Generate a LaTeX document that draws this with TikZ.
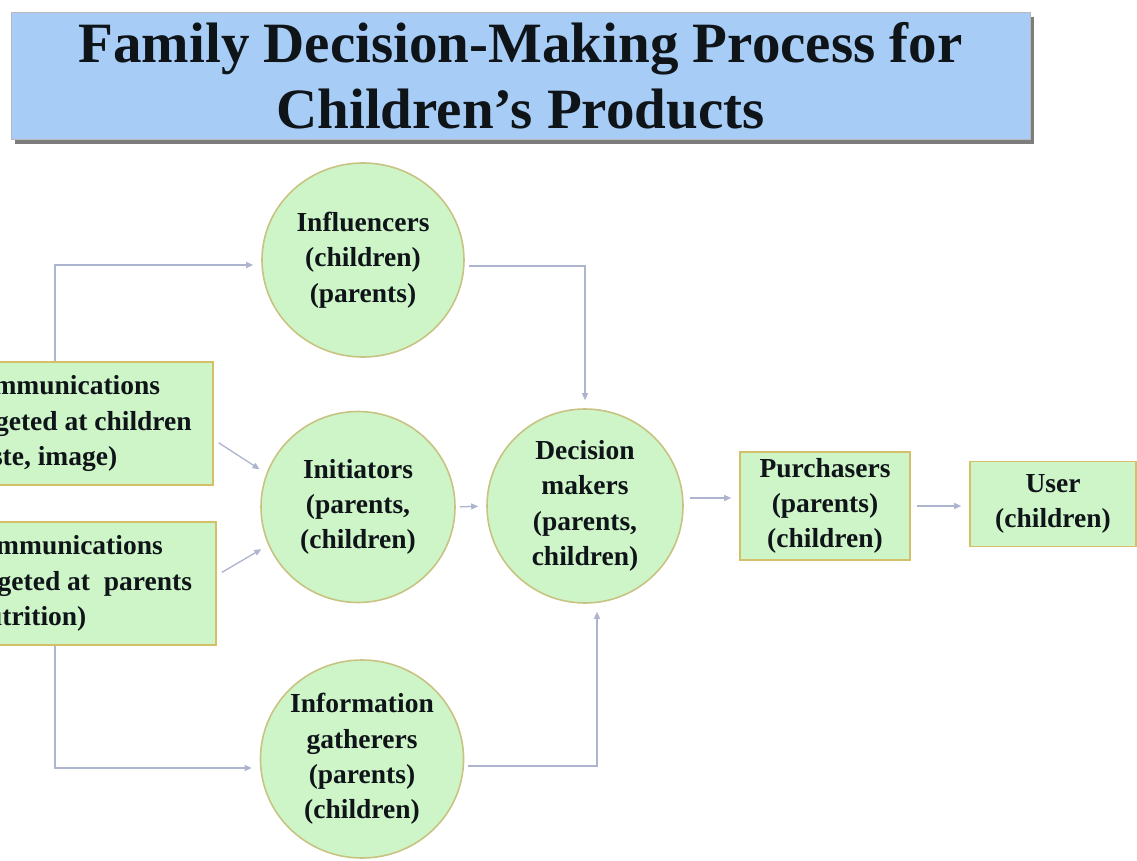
\documentclass[tikz,border=0pt]{standalone}
\usepackage{fontspec}
\setmainfont{Liberation Serif}
\usetikzlibrary{shapes.geometric,arrows.meta,shadows}
\definecolor{titleblue}{RGB}{167,205,246}
\definecolor{nodegreen}{RGB}{206,245,200}
\definecolor{circedge}{RGB}{200,195,130}
\definecolor{boxedge}{RGB}{212,192,105}
\definecolor{arrowgray}{RGB}{172,180,206}
\definecolor{shadowgray}{RGB}{125,125,125}
\definecolor{inkblack}{RGB}{15,20,25}
\tikzset{
  lbl/.style={font=\bfseries\fontsize{27.5}{35.3}\selectfont, align=center, text=inkblack},
  circ/.style={lbl, ellipse, fill=nodegreen, draw=circedge, line width=1.6pt, inner sep=0pt},
  gbox/.style={lbl, rectangle, fill=nodegreen, draw=boxedge, line width=1.6pt, inner sep=0pt},
  lbox/.style={gbox, align=left, inner sep=0pt, minimum height=123pt, anchor=west},
  titlebox/.style={rectangle, fill=titleblue, draw=gray!55, line width=0.8pt,
    font=\bfseries\fontsize{57}{66}\selectfont, align=center, text=inkblack,
    drop shadow={shadow xshift=4pt, shadow yshift=-5pt, fill=shadowgray, opacity=1}},
  arr/.style={draw=arrowgray, line width=1.3pt, -{Triangle[length=7pt,width=6pt]}, shorten >=8pt}
}
\begin{document}
\begin{tikzpicture}[x=1pt,y=-1pt]
\useasboundingbox (0,0) rectangle (1137,861);
\clip (0,0) rectangle (1137,861);

\node[titlebox, minimum width=1019pt, minimum height=127pt] (title) at (520.5,75.5)
  {Family Decision-Making Process for\\Children’s Products};

\node[circ, minimum width=202pt, minimum height=194pt] (infl) at (363,260)
  {Influencers\\(children)\\(parents)};
\node[circ, minimum width=194pt, minimum height=191pt] (init) at (358,507)
  {Initiators\\(parents,\\(children)};
\node[circ, minimum width=196pt, minimum height=194pt] (dec) at (585,506)
  {Decision\\makers\\(parents,\\children)};
\node[circ, minimum width=200pt, minimum height=198pt] (info) at (362,759)
  {Information\\gatherers\\(parents)\\(children)};

\node[lbox, minimum width=274pt] (lb1) at (-62,423.5)
  {Communications\\targeted at children\\(taste, image)};
\node[lbox, minimum width=277pt] (lb2) at (-62,583.5)
  {Communications\\targeted at\ \ parents\\(nutrition)};

\node[gbox, minimum width=170pt, minimum height=108pt] (purch) at (825,506)
  {Purchasers\\(parents)\\(children)};
\node[gbox, minimum width=166pt, minimum height=85pt] (user) at (1053,504)
  {User\\(children)};

\coordinate (k1) at (55,265);
\coordinate (k2) at (55,768);

\draw[arr] (lb1.north -| k1) -- (k1) -- (k1 -| infl.west);
\draw[arr] (lb2.south -| k2) -- (k2) -- (k2 -| info.west);
\draw[arr, shorten <=6pt] ([yshift=-16pt]lb1.east) -- (init.160);
\draw[arr, shorten <=6pt] ([yshift=8pt]lb2.east) -- (init.203);
\draw[arr, shorten <=4pt] ([yshift=-6pt]infl.east) -| (dec.north);
\draw[arr, shorten <=4pt] ([yshift=-7pt]info.east) -| ([xshift=12pt]dec.south);
\draw[arr, shorten <=4pt] (init.east) -- (dec.west);
\draw[arr, shorten <=6pt] ([yshift=8pt]dec.east) -- ([yshift=8pt]dec.east -| purch.west);
\draw[arr, shorten <=6pt] (purch.east) -- (purch.east -| user.west);
\end{tikzpicture}
\end{document}
